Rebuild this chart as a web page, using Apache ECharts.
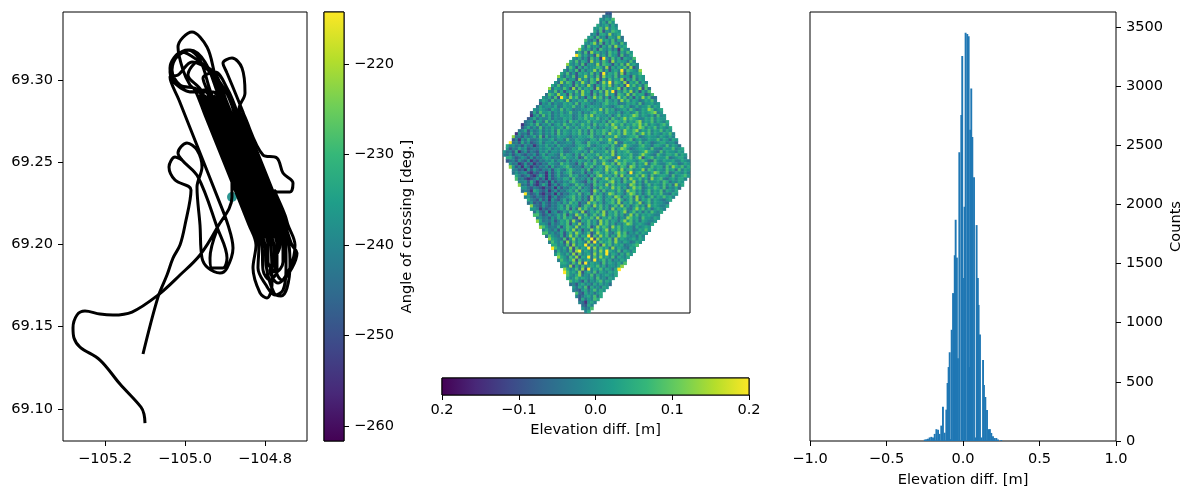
<!DOCTYPE html>
<html><head><meta charset="utf-8">
<style>html,body{margin:0;padding:0;background:#fff}#c{width:1186px;height:489px}</style>
<script src="https://cdn.jsdelivr.net/npm/echarts@6/dist/echarts.min.js"></script>
</head><body><div id="c"></div>
<script>
const viridis=['#440154','#482878','#3e4989','#31688e','#26828e','#1f9e89','#35b779','#6ece58','#b5de2b','#fde725'];

// Left panel: flight track, [longitude, latitude]
const approachTrack=[[-105.10,69.0914],[-105.1025,69.0969],[-105.11,69.1011],[-105.1625,69.1151],[-105.2125,69.1297],[-105.2625,69.1376],[-105.2775,69.1431],[-105.28,69.1492],[-105.27,69.1571],[-105.25,69.1595],[-105.2125,69.1577],[-105.18,69.1571],[-105.1325,69.1589],[-105.0675,69.1692],[-105.0125,69.1814],[-104.9625,69.1936],[-104.92,69.21],[-104.8825,69.2288],
[-104.89,69.2787],[-104.9075,69.2896],[-104.925,69.303],[-104.945,69.32],[-104.9825,69.3291],[-105.0175,69.32],[-105.005,69.306],[-104.9875,69.2969],[-104.975,69.2939]];
const racetrackTrack=[[-104.95,69.2787],[-104.84,69.2118],[-104.8225,69.1996],[-104.83,69.1857],[-104.8125,69.1705],[-104.795,69.1674],[-104.7825,69.1753],[-104.785,69.1996],[-104.8025,69.2118],[-104.9125,69.2787],
[-104.9375,69.2939],[-104.9625,69.3121],[-104.9925,69.3182],[-105.0175,69.3152],[-105.0325,69.306],[-105.0125,69.2969],[-104.9675,69.2939],[-104.9425,69.2787],[-104.8325,69.2118],
[-104.815,69.1996],[-104.8175,69.1857],[-104.7975,69.1753],[-104.775,69.1692],[-104.755,69.1723],[-104.7475,69.1844],[-104.7475,69.1996],[-104.765,69.2118],[-104.875,69.2787],
[-104.885,69.286],[-104.9,69.2939],[-104.9325,69.3048],[-104.9675,69.3109],[-104.9925,69.303],[-104.96,69.2939],[-104.935,69.2787],[-104.825,69.2118],
[-104.8075,69.1996],[-104.805,69.1844],[-104.7875,69.1784],[-104.77,69.1844],[-104.77,69.1996],[-104.7875,69.2118],[-104.8975,69.2787],
[-104.9175,69.2915],[-104.95,69.3109],[-104.9875,69.3182],[-105.0225,69.3133],[-105.0375,69.3048],[-105.0225,69.2981],[-104.9875,69.2927],[-104.9525,69.2939],[-104.9275,69.2787],[-104.8175,69.2118],
[-104.8,69.1996],[-104.7975,69.1875],[-104.7775,69.1705],[-104.76,69.1686],[-104.745,69.1735],[-104.7375,69.1875],[-104.74,69.1996],[-104.7575,69.2118],[-104.8675,69.2787],
[-104.875,69.2841],[-104.8925,69.2939],[-104.925,69.3048],[-104.955,69.3012],[-104.945,69.2939],[-104.92,69.2787],[-104.81,69.2118],
[-104.7925,69.1996],[-104.7925,69.1893],[-104.7725,69.1832],[-104.755,69.1893],[-104.755,69.1996],[-104.7725,69.2118],[-104.8825,69.2787],
[-104.8975,69.2878],[-104.9225,69.303],[-104.9625,69.3109],[-105.0075,69.317],[-105.0375,69.3073],[-105.0325,69.3],[-104.9825,69.2927],[-104.93,69.2927],[-104.905,69.2787],[-104.795,69.2118],
[-104.7775,69.1996],[-104.775,69.1857],[-104.7575,69.1784],[-104.7325,69.1857],[-104.72,69.1948],[-104.7325,69.1996],[-104.75,69.2118],[-104.86,69.2787],
[-104.865,69.2823],[-104.85,69.2921],[-104.8575,69.3073],[-104.8825,69.3133],[-104.905,69.3103],[-104.895,69.3042],[-104.8825,69.2969],[-104.855,69.2805],[-104.8525,69.2787],
[-104.805,69.2544],[-104.77,69.2525],[-104.755,69.2434],[-104.73,69.2373],[-104.7375,69.2319],[-104.77,69.2319],[-104.7775,69.2331],[-104.75,69.2179],[-104.7425,69.2118],[-104.725,69.1996],
[-104.7375,69.1857],[-104.7675,69.1765],[-104.7875,69.1844],[-104.7625,69.1996],[-104.78,69.2118],[-104.89,69.2787],
[-104.9075,69.2896],[-104.9375,69.3048],[-104.9825,69.3109],[-105.0175,69.303],[-105.0375,69.3018],[-105.015,69.2878],[-104.9175,69.228]];
const southLoopsTrack=[[-104.8925,69.2118],[-104.88,69.1978],[-104.895,69.1857],[-104.9125,69.1826],[-104.9425,69.1857],[-104.9575,69.1917],[-104.9625,69.2118],[-104.97,69.2349],[-104.9575,69.2471],[-104.97,69.2574],[-104.995,69.2617],[-105.0175,69.2556],[-105.0075,69.2513],[-104.9675,69.241],[-104.92,69.2106],[-104.895,69.1917],[-104.905,69.1857],[-104.9325,69.1857],[-104.9375,69.1917],[-104.92,69.2088]];
const departureTrack=[[-105.105,69.1334],[-105.0675,69.168],[-105.045,69.1814],[-105.03,69.1917],[-105.0125,69.1996],[-105,69.2118],[-104.985,69.2331],[-105.025,69.2392],[-105.04,69.2471],[-105.025,69.2531],[-105.0075,69.2513]];
const swathPassNorth=[[-104.9663,69.2908],[-104.9588,69.2908],[-104.9513,69.2908],[-104.9438,69.2908],[-104.9363,69.2908],[-104.9288,69.2908],[-104.9213,69.2908],[-104.9088,69.2878],[-104.8863,69.2787],[-104.8788,69.2787],[-104.8713,69.2787],[-104.8638,69.2787],[-104.8563,69.2787]];
const swathPassSouth=[[-104.8233,69.2039],[-104.8158,69.2039],[-104.8083,69.2039],[-104.8008,69.2039],[-104.7933,69.2039],[-104.7858,69.2039],[-104.7783,69.2039],[-104.7708,69.2039],[-104.7763,69.2118],[-104.7688,69.2118],[-104.7613,69.2118],[-104.7538,69.2118],[-104.7463,69.2118]];
const crossingPoint=[[-104.8825,69.2288,-232]];
const lonTicks=[-105.2,-105.0,-104.8];
const latTicks=[69.10,69.15,69.20,69.25,69.30];
const angleTicks=[-260,-250,-240,-230,-220];

// Middle panel: elevation difference levels estimated per cell
const elevationLevels=[-0.2,-0.14,-0.09,-0.05,-0.02,0.01,0.04,0.08,0.13,0.2];
const rowStartCols=[34,33,32,32,31,30,30,29,28,27,27,26,25,24,24,23,22,21,21,20,19,18,18,17,16,15,15,14,13,12,12,11,10,9,9,8,7,6,6,5,4,3,3,2,1,1,0,0,1,1,2,2,3,3,4,4,5,5,6,6,7,7,8,8,9,9,10,10,11,11,12,12,13,13,14,15,15,16,16,17,17,18,18,19,19,20,20,21,21,22,22,23,23,24,24,25,25,26,26,27];
const elevationRows=[
"22","343","54657","46375","6456364","55748465","637254765","4526648456","563745265483","7436285647364","54683726475374","637455264738556","85463627546351754","4637285645375626475","9746352846375527346","546352746195374626547","6473652846375284655374","854637255483765264738564","475263645576382646573824","53647263558473625649376548",
"647352656473629465738264557","85364725584637285647365527465","46735528463758263746582647365","5384762648537624859376482657364","64735562746385264758364629574637","8365475283746562837465682736458273","5473625647385626473859264758362647","376485627364855273648562764837566247","54637296485735264857362648573626485733","465374564835465745356475463857465346574",
"2546354465 6473655345 4675563446 5647355645",
"3645546346 5574463565 5465435675 6346455746 5",
"5465436547 4653445564 6584756345 6475346587 456",
"2637556354 6457446354 6756475546 3564574656 7845",
"1463746354 6556346475 8465546357 4656874654 63745",
"2463544635 4465634657 5657456375 4685765446 574655",
"3452653746 4546375645 5746546375 7657465784 65746546",
"1346473546 3564754645 7563746574 8657465768 574654675",
"2463537354 6456375464 6574635465 7846574658 7465746546",
"3462534635 4637465465 7463746576 4757486578 4657465746 5",
"1534263463 5463746546 5746374657 4865748657 4685746546 574",
"8342534637 2635465543 5465567445 3655864456 6734565546 5464",
"2415363346 4456355374 4655436647 5586345567 3564465574 65365",
"9342635234 6355463445 5366437556 4457583365 5647465345 664553",
"6453425341 3546453645 4435665743 5566474358 6544675536 65474653",
"5243645234 3545635463 3455764356 5463574687 5345665474 436557456",
"5342613524 3254635546 3345654637 4555748365 6754456865 4374655465",
"4352453243 5246355437 4653637465 5746558365 6574468654 3754665746 5",
"6642354252 4356534367 5546237564 4857643955 6746825674 6557345664",
"2342532513 2435463543 6354654637 4575348657 6654675337 5465564465 4",
"5341252413 2436543756 4426375574 4865738674 5746583675 4467553465",
"8524153132 4352634567 5344265735 6487564763 8746544756 6374865746",
"4423152532 4352564367 5446372556 4857638467 4558376465 475637465",
"3534521324 3152463567 3446253675 4746857639 4675546874 573465464",
"6423521364 1524634475 6345263785 5647384655 7486374566 53745675",
"7342123524 1523546637 4453627546 8475637486 5746385674 3564664",
"4452631324 1524354675 4326473655 7846375584 6374556476 35465",
"8342521364 1352465347 5634275648 3746553874 6357465474 63846",
"5532432132 4152435647 3542637564 8574635867 3465764735 463",
"3431653241 3524356473 6542863745 6475386746 3574657365 46",
"9423521324 1524356473 5627463587 4653687463 5746574436 5",
"4532432413 5234567463 5284763564 8736573846 3574657564",
"6432524153 2463574635 2847636574 8635748365 74654356",
"3523253243 5364756243 8574635674 8365746835 7465543",
"8432532435 6374652476 3857463574 8463574638 565446",
"5541323435 6472638574 6357463846 5743685746 35654",
"3632514523 6475638246 5748365746 8357463647 546",
"7742353464 7253864735 7468365746 3584746565 44",
"4534253647 5632846574 8365746354 8756375546 5",
"8634352465 7384265746 3857465368 5746365445",
"5542534657 2648357463 8574635468 74565436",
"8753436257 6483657248 5763857465 5364565",
"4643526475 8362548574 6836574655 346575",
"7745346257 4863572486 5743685735 46465",
"3754362584 7365927485 7364867545 364",
"8654372584 6375928465 7384654564 65",
"4754628374 6538294756 7485465346 5",
"6645372846 5937462857 465634567",
"9754638274 6593847563 84654365",
"3645372894 6537485965 4736546",
"5754638274 5638475946 536475",
"8653748265 9374856473 6546",
"4754682745 6394574635 465",
"6653748294 6553746546 47",
"5548263745 6574635546 8",
"8645738294 657465369",
"9756482564 73654656",
"7546835473 6456546",
"6457565463 745365",
"7564263546 7465",
"3425645364 6453",
"5364726453 65",
"4325635746 5",
"732645356","423564736","2635476","431564","3264","5347","46"
];
const elevationTicks=[-0.2,-0.1,0,0.1,0.2];
const elevationTickLabels=['0.2','\u22120.1','0.0','0.1','0.2'];

// Right panel: histogram
const histCenters=[-0.25,-0.24,-0.229,-0.218,-0.207,-0.196,-0.185,-0.174,-0.163,-0.153,-0.142,-0.131,-0.12,-0.109,-0.101,-0.094,-0.087,-0.082,-0.074,-0.065,-0.054,-0.048,-0.04,-0.033,-0.024,-0.011,-0.005,0.0,0.01,0.017,0.028,0.037,0.04,0.047,0.054,0.061,0.072,0.083,0.089,0.097,0.102,0.111,0.12,0.131,0.137,0.146,0.157,0.168,0.176,0.185,0.196,0.207,0.218,0.229,0.25];
const histCounts=[12,15,20,30,35,30,60,100,95,60,130,290,70,265,490,625,750,15,940,1250,1570,1870,1550,700,2440,2755,3255,1378,1980,3450,3440,3420,625,2630,2980,2570,2230,30,1825,1378,1150,900,30,685,473,372,262,100,100,68,40,25,25,12,8];
const histXTicks=[-1,-0.5,0,0.5,1];
const histYTicks=[0,500,1000,1500,2000,2500,3000,3500];

const font='DejaVu Sans', fs=14.6;
const chart=echarts.init(document.getElementById('c'),null,{renderer:'canvas'});
const minus=s=>String(s).replace('-','\u2212');
function valAxis(gridIndex,min,max,ticks,fmt,extra,margin){
  return Object.assign({type:'value',gridIndex,min,max,scale:true,
    axisLine:{show:false,onZero:false},
    axisTick:{show:true,length:5,lineStyle:{color:'#000',width:1},customValues:ticks},
    axisLabel:{show:true,color:'#000',fontFamily:font,fontSize:fs,margin:margin||10,customValues:ticks,formatter:fmt},
    splitLine:{show:false},
    nameTextStyle:{color:'#000',fontFamily:font,fontSize:fs}},extra||{});
}
const hidden=(gridIndex,min,max)=>({type:'value',gridIndex,min,max,show:false});
const cells=[];
elevationRows.forEach((rowText,r)=>{const row=rowText.replace(/ /g,'');for(let i=0;i<row.length;i++)cells.push([rowStartCols[r]+i,r,elevationLevels[+row[i]]]);});
const cols=Array.from({length:62},(_,i)=>i), rows=Array.from({length:100},(_,i)=>i);
const stops=viridis.map((color,i)=>({offset:i/(viridis.length-1),color}));
const barRender=vertical=>(params,api)=>{
  const a=api.coord([api.value(0),api.value(2)]),b=api.coord([api.value(1),api.value(3)]);
  return {type:'rect',shape:{x:Math.min(a[0],b[0]),y:Math.min(a[1],b[1]),width:Math.abs(a[0]-b[0]),height:Math.abs(a[1]-b[1])},
    style:{fill:vertical?new echarts.graphic.LinearGradient(0,1,0,0,stops):new echarts.graphic.LinearGradient(0,0,1,0,stops),stroke:'#000',lineWidth:1}};
};
const frame={show:true,borderColor:'#000',borderWidth:1,backgroundColor:'#fff',outerBoundsMode:'none'};
const trackLine=(data,smooth)=>({type:'line',xAxisIndex:0,yAxisIndex:0,data,showSymbol:false,symbol:'none',smooth,z:3,lineStyle:{color:'#000',width:3}});
const swathLines=swathPassNorth.flatMap((p,i)=>[p,swathPassSouth[i],['-','-']]);
chart.setOption({
  animation:false,
  grid:[
    Object.assign({left:63,top:12,width:244,height:429},frame),
    Object.assign({left:324,top:12,width:20,height:429},frame),
    Object.assign({left:503,top:12,width:187,height:301},frame),
    Object.assign({left:442,top:378,width:307,height:17},frame),
    Object.assign({left:810,top:12,width:306,height:429},frame)
  ],
  xAxis:[
    valAxis(0,-105.305,-104.695,lonTicks,v=>minus(v.toFixed(1)),null,11),
    hidden(1,0,1),
    {type:'category',gridIndex:2,data:cols,show:false},
    valAxis(3,-0.2,0.2,elevationTicks,v=>elevationTickLabels[elevationTicks.findIndex(t=>Math.abs(t-v)<1e-6)],{name:'Elevation diff. [m]',nameLocation:'middle',nameGap:28},8),
    valAxis(4,-1,1,histXTicks,v=>minus(v.toFixed(1)),{name:'Elevation diff. [m]',nameLocation:'middle',nameGap:32},11)
  ],
  yAxis:[
    valAxis(0,69.0805,69.3413,latTicks,v=>v.toFixed(2)),
    valAxis(1,-261.66,-214.25,angleTicks,v=>minus(v),{position:'right',name:'Angle of crossing [deg.]',nameLocation:'middle',nameGap:56,nameRotate:90}),
    {type:'category',gridIndex:2,data:rows,inverse:true,show:false},
    hidden(3,0,1),
    valAxis(4,0,3626,histYTicks,v=>String(v),{position:'right',name:'Counts',nameLocation:'middle',nameGap:53,nameRotate:90})
  ],
  visualMap:{show:false,type:'continuous',min:-0.2,max:0.2,seriesIndex:2,inRange:{color:viridis},dimension:2},
  series:[
    {type:'scatter',xAxisIndex:0,yAxisIndex:0,data:crossingPoint,symbolSize:10,z:2,itemStyle:{color:'#21908d',opacity:0.95}},
    trackLine(approachTrack.concat(racetrackTrack,southLoopsTrack),0.35),
    {type:'heatmap',xAxisIndex:2,yAxisIndex:2,data:cells,progressive:0},
    trackLine(departureTrack,0.35),
    {type:'custom',xAxisIndex:1,yAxisIndex:1,data:[[0,1,-261.66,-214.25]],encode:{x:[0,1],y:[2,3]},renderItem:barRender(true),silent:true},
    {type:'custom',xAxisIndex:3,yAxisIndex:3,data:[[-0.2,0.2,0,1]],encode:{x:[0,1],y:[2,3]},renderItem:barRender(false),silent:true},
    {type:'bar',xAxisIndex:4,yAxisIndex:4,data:histCenters.map((x,i)=>[x,histCounts[i]]),barWidth:1.9,itemStyle:{color:'#1f77b4'}},
    Object.assign(trackLine(swathLines,false),{connectNulls:false})
  ]
});
</script></body></html>
